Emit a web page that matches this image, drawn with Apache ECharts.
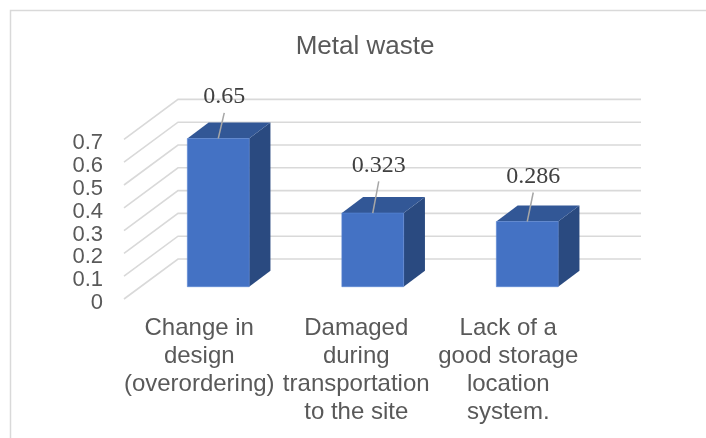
<!DOCTYPE html>
<html>
<head>
<meta charset="utf-8">
<style>
  html, body { margin: 0; padding: 0; background: #fff; }
  #chart { width: 706px; height: 438px; }
</style>
<script src="https://cdn.jsdelivr.net/npm/echarts@6/dist/echarts.min.js"></script>
</head>
<body>
<div id="chart"></div>
<script>
const chartTitle = 'Metal waste';
const categories = [
  'Change in\ndesign\n(overordering)',
  'Damaged\nduring\ntransportation\nto the site',
  'Lack of a\ngood storage\nlocation\nsystem.'
];
const wasteValues = [0.65, 0.323, 0.286];
const wasteLabels = ['0.65', '0.323', '0.286'];
const valueTicks = [0, 0.1, 0.2, 0.3, 0.4, 0.5, 0.6, 0.7];

// Oblique projection used for the pseudo-3D walls and columns.
const WALL_DX = 54, WALL_DY = -40;
const BAR_SHIFT_X = 19, BAR_SHIFT_Y = -12.3;
const BAR_DX = 21.3, BAR_DY = -16;
const BAR_BAND = 0.4;
const LEADER_RISE = [25.7, 31.6, 29];

const GREY_TEXT = '#595959';
const FACE_FRONT = '#4472c4', FACE_TOP = '#325796', FACE_SIDE = '#2a4a80';

function renderWall(params, api) {
  const cs = params.coordSys;
  const y = api.coord([0, api.value(1)])[1];
  return {
    type: 'polyline',
    shape: { points: [
      [cs.x + 2, y],
      [cs.x + 2 + WALL_DX, y + WALL_DY],
      [cs.x + cs.width + 55.5, y + WALL_DY]
    ] },
    style: { fill: 'none', stroke: '#d9d9d9', lineWidth: 1.6 },
    silent: true
  };
}

function renderColumn(params, api) {
  const i = api.value(0);
  const top = api.coord([i, api.value(1)]);
  const base = api.coord([i, 0]);
  const w = api.size([1, 0])[0] * BAR_BAND;
  const x0 = top[0] + BAR_SHIFT_X - w / 2, x1 = x0 + w;
  const yT = top[1] + BAR_SHIFT_Y, yB = base[1] + BAR_SHIFT_Y;
  const cx = (x0 + x1) / 2;
  const rise = LEADER_RISE[i];
  const face = (points, fill) => ({
    type: 'polygon', shape: { points }, style: { fill }
  });
  return {
    type: 'group',
    children: [
      face([[x1, yT], [x1 + BAR_DX, yT + BAR_DY], [x1 + BAR_DX, yB + BAR_DY], [x1, yB]], FACE_SIDE),
      face([[x0, yT], [x0 + BAR_DX, yT + BAR_DY], [x1 + BAR_DX, yT + BAR_DY], [x1, yT]], FACE_TOP),
      {
        type: 'rect',
        shape: { x: x0, y: yT, width: w, height: yB - yT },
        style: { fill: FACE_FRONT, stroke: '#5b86d3', lineWidth: 0.6 }
      },
      {
        type: 'line',
        shape: { x1: cx, y1: yT, x2: cx + 6, y2: yT - rise },
        style: { stroke: '#a6a6a6', lineWidth: 1.5 }
      },
      {
        type: 'text',
        style: {
          x: cx + 6, y: yT - rise - 16,
          text: wasteLabels[i],
          fill: '#404040',
          font: '24px "Liberation Serif"',
          align: 'center', verticalAlign: 'middle'
        }
      }
    ]
  };
}

const chart = echarts.init(document.getElementById('chart'), null, { renderer: 'canvas' });
chart.setOption({
  animation: false,
  backgroundColor: '#fff',
  title: {
    text: chartTitle,
    left: 360, top: 42, textAlign: 'center', textVerticalAlign: 'middle',
    textStyle: { color: GREY_TEXT, fontFamily: 'Liberation Sans', fontSize: 26, fontWeight: 'normal' }
  },
  graphic: [{
    type: 'rect', z: -1, silent: true,
    shape: { x: 10.5, y: 10.5, width: 720, height: 460 },
    style: { fill: 'none', stroke: '#d9d9d9', lineWidth: 1.5 }
  }],
  grid: { left: 122, top: 139.4, width: 463.5, height: 159.6 },
  xAxis: {
    type: 'category',
    data: [
      categories[0],
      { value: categories[1], textStyle: { padding: [0, 0, 0, 5] } },
      categories[2]
    ],
    axisLine: { show: false },
    axisTick: { show: false },
    axisLabel: {
      interval: 0, margin: 15, hideOverlap: false,
      color: GREY_TEXT, fontFamily: 'Liberation Sans', fontSize: 24, lineHeight: 28
    }
  },
  yAxis: {
    type: 'value',
    min: 0, max: 0.7, interval: 0.1,
    axisLine: { show: false },
    axisTick: { show: false },
    splitLine: { show: false },
    axisLabel: {
      margin: 19, verticalAlign: 'top', lineHeight: 8,
      color: GREY_TEXT, fontFamily: 'Liberation Sans', fontSize: 22
    }
  },
  series: [
    {
      type: 'custom', name: 'walls', silent: true, z: 1,
      renderItem: renderWall,
      encode: { x: 0, y: 1 },
      data: valueTicks.map(v => [0, v])
    },
    {
      type: 'custom', name: chartTitle, z: 2,
      renderItem: renderColumn,
      encode: { x: 0, y: 1 },
      data: wasteValues.map((v, i) => [i, v])
    }
  ]
});
</script>
</body>
</html>
